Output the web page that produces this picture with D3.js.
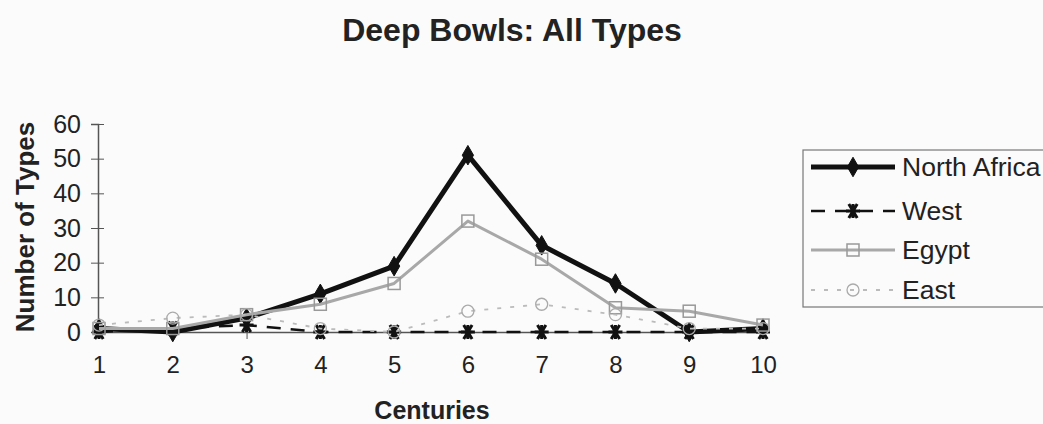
<!DOCTYPE html>
<html>
<head>
<meta charset="utf-8">
<script src="https://cdn.jsdelivr.net/npm/d3@7"></script>
<style>
  html, body { margin: 0; padding: 0; background: #fbfbfb; }
  svg { display: block; font-family: Arial, "Liberation Sans", sans-serif; }
</style>
</head>
<body>
<div id="chart"></div>
<script>
// chart data
const centuries = [1, 2, 3, 4, 5, 6, 7, 8, 9, 10];
const northAfrica = [1, 0, 4, 11, 19, 51, 25, 14, 0, 1];
const west = [0, 1, 2, 0, 0, 0, 0, 0, 0, 0];
const egypt = [1, 1, 5, 8, 14, 32, 21, 7, 6, 2];
const east = [2, 4, 5, 1, 0, 6, 8, 5, 1, 1];
const yTicks = [0, 10, 20, 30, 40, 50, 60];

const seriesNames = ["North Africa", "West", "Egypt", "East"];
const seriesValues = [northAfrica, west, egypt, east];

const width = 1043, height = 424;

const svg = d3.select("#chart").append("svg")
  .attr("width", width)
  .attr("height", height);

const x = d3.scaleLinear().domain([1, 10]).range([99, 763]);
const y = d3.scaleLinear().domain([0, 60]).range([332, 124]);

// look of each series
const styles = [
  { stroke: "#111", width: 5, dash: null, marker: "diamond", mstroke: "#111", mfill: "#111" },
  { stroke: "#111", width: 2.5, dash: "14,10", marker: "asterisk", mstroke: "#111", mfill: "none" },
  { stroke: "#a8a8a8", width: 3, dash: null, marker: "square", mstroke: "#999", mfill: "none" },
  { stroke: "#bbb", width: 1.8, dash: "4,9", marker: "circle", mstroke: "#aaa", mfill: "none" }
];

// title
svg.append("text")
  .attr("x", 512).attr("y", 41)
  .attr("text-anchor", "middle")
  .attr("font-size", 32).attr("font-weight", "bold").attr("fill", "#222")
  .text("Deep Bowls: All Types");

// y axis
const yAxis = svg.append("g").attr("transform", "translate(98,0)")
  .call(d3.axisLeft(y).tickValues(yTicks).tickSize(7).tickPadding(10));
yAxis.select(".domain").attr("stroke", "#555").attr("stroke-width", 1.5);
yAxis.selectAll(".tick line").attr("stroke", "#555").attr("x2", 6).attr("x1", -7);
yAxis.selectAll(".tick text").attr("font-size", 25).attr("fill", "#222")
  .attr("font-family", "Arial, 'Liberation Sans', sans-serif");

// x axis
const xAxis = svg.append("g").attr("transform", "translate(0,332)")
  .call(d3.axisBottom(x).tickValues(centuries).tickFormat(d3.format("d")).tickSize(7).tickPadding(17).tickSizeOuter(0));
xAxis.select(".domain").attr("stroke", "#555").attr("stroke-width", 1.5);
xAxis.selectAll(".tick line").attr("stroke", "#555");
xAxis.selectAll(".tick text").attr("font-size", 24).attr("fill", "#222")
  .attr("font-family", "Arial, 'Liberation Sans', sans-serif");

// axis titles
svg.append("text")
  .attr("transform", "translate(34,227) rotate(-90)")
  .attr("text-anchor", "middle")
  .attr("font-size", 26).attr("font-weight", "bold").attr("fill", "#222")
  .text("Number of Types");

svg.append("text")
  .attr("x", 432).attr("y", 419)
  .attr("text-anchor", "middle")
  .attr("font-size", 25).attr("font-weight", "bold").attr("fill", "#222")
  .text("Centuries");

function drawMarker(g, s) {
  if (s.marker === "diamond") {
    g.append("path").attr("d", d3.symbol(d3.symbolDiamond, 110)())
      .attr("fill", s.mfill).attr("stroke", s.mstroke).attr("stroke-width", 1);
  } else if (s.marker === "asterisk") {
    const r = 7;
    g.append("path")
      .attr("d", "M" + (-r) + ",0L" + r + ",0M" + (-r * 0.6) + "," + (-r) + "L" + (r * 0.6) + "," + r +
        "M" + (r * 0.6) + "," + (-r) + "L" + (-r * 0.6) + "," + r + "M0," + (-r) + "L0," + r)
      .attr("stroke", s.mstroke).attr("stroke-width", 3).attr("fill", "none");
  } else if (s.marker === "square") {
    g.append("rect").attr("x", -6).attr("y", -6).attr("width", 12).attr("height", 12)
      .attr("fill", "none").attr("stroke", s.mstroke).attr("stroke-width", 1.5);
  } else {
    g.append("circle").attr("r", 6)
      .attr("fill", "none").attr("stroke", s.mstroke).attr("stroke-width", 1.3);
  }
}

const line = d3.line()
  .x((d, i) => x(centuries[i]))
  .y(d => y(d));

seriesValues.forEach(function(vals, k) {
  const s = styles[k];
  const g = svg.append("g");
  g.append("path")
    .datum(vals)
    .attr("d", line)
    .attr("fill", "none")
    .attr("stroke", s.stroke)
    .attr("stroke-width", s.width)
    .attr("stroke-dasharray", s.dash)
    .attr("stroke-linejoin", "round");
  g.selectAll(".m")
    .data(vals)
    .enter()
    .append("g")
    .attr("transform", (d, i) => "translate(" + x(centuries[i]) + "," + y(d) + ")")
    .each(function() { drawMarker(d3.select(this), s); });
});

// legend
const legend = svg.append("g");
legend.append("rect")
  .attr("x", 803).attr("y", 150).attr("width", 260).attr("height", 157)
  .attr("fill", "#fbfbfb").attr("stroke", "#777").attr("stroke-width", 1.2);

const legendY = [167, 211, 250, 290];
seriesNames.forEach(function(name, k) {
  const s = styles[k];
  const row = legend.append("g").attr("transform", "translate(0," + legendY[k] + ")");
  row.append("line")
    .attr("x1", 811).attr("x2", 895).attr("y1", 0).attr("y2", 0)
    .attr("stroke", s.stroke).attr("stroke-width", s.width)
    .attr("stroke-dasharray", s.dash);
  const m = row.append("g").attr("transform", "translate(853,0)");
  drawMarker(m, s);
  row.append("text")
    .attr("x", 902).attr("y", 0).attr("dy", "0.35em")
    .attr("font-size", 26.5).attr("fill", "#222")
    .text(name);
});
</script>
</body>
</html>
